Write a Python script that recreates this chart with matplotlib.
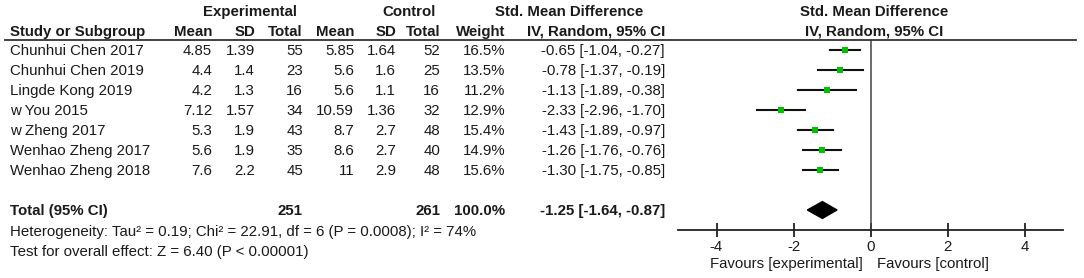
import matplotlib.pyplot as plt
from matplotlib.lines import Line2D

plt.rcParams['font.family'] = ['Liberation Sans', 'DejaVu Sans']
plt.rcParams['axes.unicode_minus'] = False

# 数据
studies = ['Chunhui Chen 2017', 'Chunhui Chen 2019', 'Lingde Kong 2019', 'w You 2015',
           'w Zheng 2017', 'Wenhao Zheng 2017', 'Wenhao Zheng 2018']
exp_mean = ['4.85', '4.4', '4.2', '7.12', '5.3', '5.6', '7.6']
exp_sd = ['1.39', '1.4', '1.3', '1.57', '1.9', '1.9', '2.2']
exp_n = [55, 23, 16, 34, 43, 35, 45]
ctl_mean = ['5.85', '5.6', '5.6', '10.59', '8.7', '8.6', '11']
ctl_sd = ['1.64', '1.6', '1.1', '1.36', '2.7', '2.7', '2.9']
ctl_n = [52, 25, 16, 32, 48, 40, 48]
weight = [16.5, 13.5, 11.2, 12.9, 15.4, 14.9, 15.6]
smd = [-0.65, -0.78, -1.13, -2.33, -1.43, -1.26, -1.30]
lo = [-1.04, -1.37, -1.89, -2.96, -1.89, -1.76, -1.75]
hi = [-0.27, -0.19, -0.38, -1.70, -0.97, -0.76, -0.85]
total_smd, total_lo, total_hi = -1.25, -1.64, -0.87
xticks = [-4, -2, 0, 2, 4]

W, H = 1084, 278
fig = plt.figure(figsize=(W / 100, H / 100), dpi=100)
txt = '#1a1a1a'
fs = 10.8


def put(x, y, s, ha='left', bold=False):
    fig.text(x / W, 1 - y / H, s, ha=ha, va='center', fontsize=fs, color=txt,
             fontweight='bold' if bold else 'normal')


# 表头
put(250, 12, 'Experimental', 'center', True)
put(409, 12, 'Control', 'center', True)
put(569, 12, 'Std. Mean Difference', 'center', True)
put(874, 12, 'Std. Mean Difference', 'center', True)
put(10, 32, 'Study or Subgroup', bold=True)
cols = [212, 255, 303, 354, 396, 440, 505, 665]
heads = ['Mean', 'SD', 'Total', 'Mean', 'SD', 'Total', 'Weight', 'IV, Random, 95% CI']
for x, h in zip(cols, heads):
    put(x, 32, h, 'right', True)
put(874, 32, 'IV, Random, 95% CI', 'center', True)
fig.add_artist(Line2D([5 / W, 1076 / W], [1 - 40 / H, 1 - 40 / H], color='#333', lw=1.3))

# 每行
for i in range(len(studies)):
    y = 51 + 20 * i
    put(10, y, studies[i])
    vals = [exp_mean[i], exp_sd[i], str(exp_n[i]), ctl_mean[i], ctl_sd[i], str(ctl_n[i]),
            '%.1f%%' % weight[i], '%.2f [%.2f, %.2f]' % (smd[i], lo[i], hi[i])]
    for x, v in zip(cols, vals):
        put(x, y, v, 'right')

# 合计
put(10, 211, 'Total (95% CI)', bold=True)
put(303, 211, str(sum(exp_n)), 'right', True)
put(440, 211, str(sum(ctl_n)), 'right', True)
put(505, 211, '%.1f%%' % sum(weight), 'right', True)
put(665, 211, '%.2f [%.2f, %.2f]' % (total_smd, total_lo, total_hi), 'right', True)
put(10, 232, 'Heterogeneity: Tau² = 0.19; Chi² = 22.91, df = 6 (P = 0.0008); I² = 74%')
put(10, 252, 'Test for overall effect: Z = 6.40 (P < 0.00001)')

# 森林图
x0, x1, ytop, ybot = 678, 1063, 40, 230
ax = fig.add_axes([x0 / W, 1 - ybot / H, (x1 - x0) / W, (ybot - ytop) / H])
ax.set_xlim(-5, 5)
ax.set_ylim(9, -0.5)
for s in ['top', 'right', 'left']:
    ax.spines[s].set_visible(False)
ax.spines['bottom'].set_linewidth(1.3)
ax.spines['bottom'].set_color('#222')
ax.set_yticks([])
ax.set_xticks(xticks)
ax.tick_params(axis='x', direction='inout', length=10, width=1.3, color='#222',
               labelsize=fs, labelcolor=txt, pad=2)
ax.axvline(0, color='#444', lw=1.1)

for i in range(len(studies)):
    ax.plot([lo[i], hi[i]], [i, i], color='#111', lw=1.5)
    ax.plot(smd[i], i, marker='s', color='#00c000', mew=0,
            ms=3.3 + 1.4 * weight[i] / max(weight))

ax.fill([total_lo, total_smd, total_hi, total_smd], [8, 7.58, 8, 8.42], color='black')

put(786, 264, 'Favours [experimental]', 'center')
put(933, 264, 'Favours [control]', 'center')

plt.savefig('out.png', dpi=100)
